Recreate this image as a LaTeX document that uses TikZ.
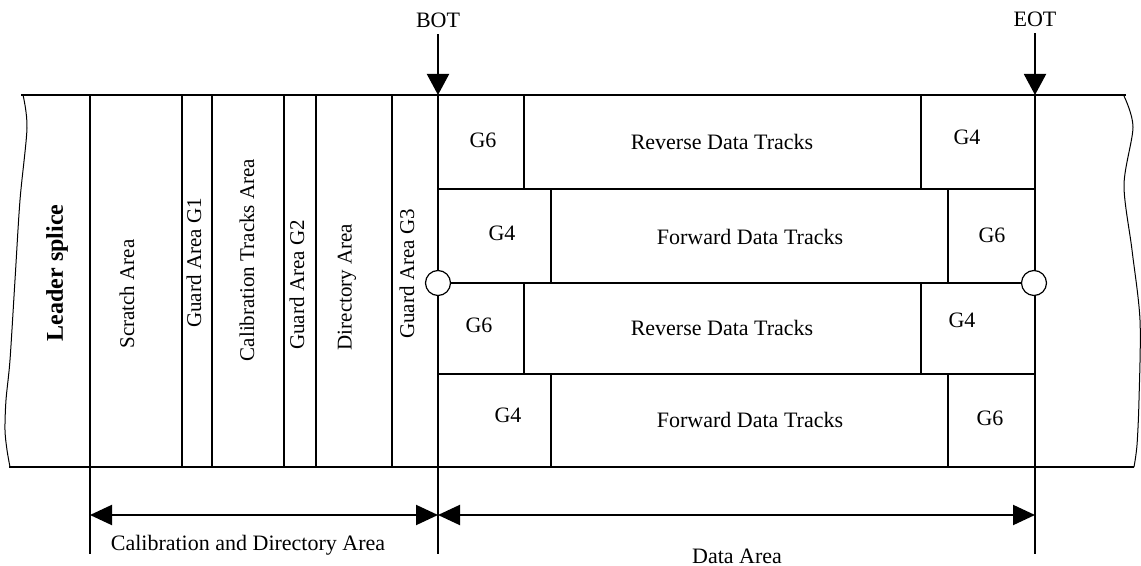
\documentclass[tikz,border=0pt]{standalone}
\usepackage{fontspec}
\setmainfont{Liberation Serif}
\usetikzlibrary{arrows.meta}
\usetikzlibrary{positioning}
\usetikzlibrary{scopes}

\tikzset{
    tapeline/.style={line width=1pt},
    thinedge/.style={line width=0.5pt},
    vlabel/.style={rotate=90,font=\fontsize{10.5}{12}\selectfont},
    hlabel/.style={font=\fontsize{11}{13}\selectfont},
    dimarrow/.style={line width=1pt,{Triangle[length=11pt,width=10pt]}-{Triangle[length=11pt,width=10pt]}},
    pointer/.style={line width=1pt,-{Triangle[length=10.5pt,width=11pt]}},
    hole/.style={circle,draw,fill=white,line width=0.6pt,minimum size=12.5pt,inner sep=0pt}
}

\begin{document}
\begin{tikzpicture}[x=0.5pt,y=-0.5pt]
    \useasboundingbox (0,0) rectangle (1141,566);
    { [tapeline]
        \draw (21,95) -- (1126,95);
        \draw (9,467) -- (1134,467);
        \foreach \x in {182,212,284,316,392}
            \draw (\x,95) -- (\x,467);
        \foreach \x in {90,438,1035}
            \draw (\x,95) -- (\x,554);
        \foreach \y in {189,283,374}
            \draw (438,\y) -- (1035,\y);
        \foreach \xa/\xb/\ya/\yb in {524/921/95/189,551/948/189/283,524/921/283/374,551/948/374/467}
        {
            \draw (\xa,\ya) -- (\xa,\yb);
            \draw (\xb,\ya) -- (\xb,\yb);
        }
    }
    { [thinedge]
        \draw plot[smooth] coordinates {(23,95) (27,128) (20,200) (15,280) (10,360) (6,400) (5,430) (7,450) (10,467)};
        \draw plot[smooth] coordinates {(1124,96) (1133,127) (1124,185) (1132,250) (1140,320) (1139,400) (1137,445) (1134,467)};
    }

    \node[hole] (holeB) at (438,283) {};
    \node[hole] (holeE) at (1034,283) {};

    \node[vlabel,font=\fontsize{12}{14}\selectfont\bfseries] (leader) at (57,273) {Leader splice};
    \node[vlabel] (scratch) at (127,294) {Scratch Area};
    \node[vlabel] (guardA) at (194,263) {Guard Area G1};
    \node[vlabel] (calib) at (247,260) {Calibration Tracks Area};
    \node[vlabel] (guardB) at (297,285) {Guard Area G2};
    \node[vlabel] (direct) at (347,287) {Directory Area};
    \node[vlabel] (guardC) at (407,274) {Guard Area G3};

    \node[hlabel] (rowAa) at (483,140) {G6};
    \node[hlabel] (rowAb) at (722,142) {Reverse Data Tracks};
    \node[hlabel] (rowAc) at (967,137) {G4};
    \node[hlabel] (rowBa) at (502,233) {G4};
    \node[hlabel] (rowBb) at (750,237) {Forward Data Tracks};
    \node[hlabel] (rowBc) at (992,235) {G6};
    \node[hlabel] (rowCa) at (479,325) {G6};
    \node[hlabel] (rowCb) at (722,328) {Reverse Data Tracks};
    \node[hlabel] (rowCc) at (962,320) {G4};
    \node[hlabel] (rowDa) at (508,415) {G4};
    \node[hlabel] (rowDb) at (750,420) {Forward Data Tracks};
    \node[hlabel] (rowDc) at (990,418) {G6};

    \coordinate (botTip) at (438,95);
    \coordinate (eotTip) at (1035,95);
    \node[hlabel] (bot) at (438,20) {BOT};
    \node[hlabel] (eot) at (1035,19) {EOT};
    \draw[pointer] (bot) -- (botTip);
    \draw[pointer] (eot) -- (eotTip);

    \coordinate (dimL) at (90,515);
    \coordinate (dimM) at (438,515);
    \coordinate (dimR) at (1035,515);
    \draw[dimarrow] (dimL) -- (dimM);
    \draw[dimarrow] (dimM) -- (dimR);
    \node[hlabel] (calibArea) at (248,545) {Calibration and Directory Area};
    \node[hlabel] (dataArea) at (737,556) {Data Area};
\end{tikzpicture}
\end{document}
